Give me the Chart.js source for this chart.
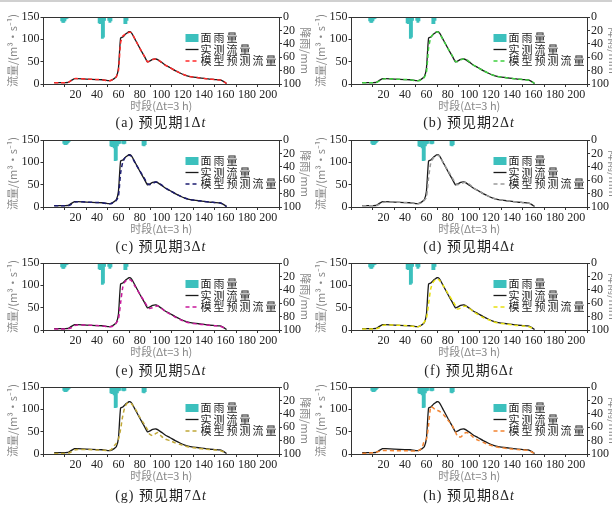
<!DOCTYPE html>
<html>
<head>
<meta charset="utf-8">
<script src="https://cdn.jsdelivr.net/npm/chart.js@4.4.0/dist/chart.umd.min.js"></script>
<style>
  html, body { margin: 0; padding: 0; background: #fff; overflow: hidden; }
  body { width: 612px; height: 506px; position: relative; }
  .topline { position: absolute; left: 0; top: 0; width: 612px; height: 2px; background: #d0d0d0; }
  .panel { position: absolute; width: 316px; height: 116px; }
  .cap {
    position: absolute; width: 240px; text-align: center;
    font: 14px "Liberation Serif", "Noto Sans CJK SC", serif; color: #222;
    line-height: 16px; letter-spacing: 1px;
  }
</style>
</head>
<body>
<div class="topline"></div>
<script>
// time steps (Δt = 3 h) where the flow curves are sampled
const steps = [0, 5, 10, 13, 16, 19, 22, 30, 40, 45, 50, 53, 56, 58, 60, 62, 64, 66, 68, 70, 72, 76, 80, 84, 87, 89, 92, 95, 97, 100, 104, 108, 113, 118, 122, 126, 130, 135, 140, 145, 150, 155, 158, 161];

// observed flow (m3/s)
const observed = [3, 3, 3, 3.5, 8, 12, 12, 11, 10, 9.5, 7.5, 8, 12, 16, 35, 103, 105, 110, 114, 117, 115, 98, 80, 63, 50, 51, 55, 56, 54, 49, 42, 37, 30, 24, 20, 17, 15.5, 14, 12.5, 11, 10, 9, 6, 1];

// model predicted flow, lead time 1..8 Δt
const pred1 = [3, 3, 3, 3.5, 8, 12, 12, 11, 10, 9.5, 7.5, 8, 12, 16, 30, 92, 107, 111, 114, 116, 115, 98, 80, 63, 50, 51, 55, 56, 54, 49, 42, 37, 30, 24, 20, 17, 15.5, 14, 12.5, 11, 10, 9, 6, 1];
const pred2 = [3, 3, 3, 3, 7, 11, 12, 11, 10, 9.5, 7.5, 7.5, 11, 15, 26, 80, 104, 111, 115, 117, 114, 97, 80, 64, 51, 50, 54, 56, 55, 50, 42, 37, 30, 24, 20, 17, 15.5, 14, 12.5, 11, 10, 9, 6, 1];
const pred3 = [3, 3, 3, 3, 6, 11, 12, 11, 10, 9.5, 7.5, 7.5, 11, 15, 24, 75, 100, 110, 114, 116, 114, 97, 81, 65, 53, 50, 53, 56, 55, 50, 42, 37, 30, 24, 20, 17, 15.5, 14, 12.5, 11, 10, 9, 6, 1];
const pred4 = [3, 3, 3, 3, 6, 10, 11, 11, 10, 9.5, 7.5, 7.5, 10, 15, 22, 65, 98, 108, 114, 116, 114, 98, 82, 66, 54, 50, 52, 55, 55, 51, 43, 37, 30, 24, 20, 17, 15.5, 14, 12.5, 11, 10, 9, 6, 1];
const pred5 = [2, 2, 2.5, 3, 5, 10, 11, 11, 10, 9, 7, 7.5, 10, 16, 24, 60, 95, 108, 112, 113, 111, 96, 80, 65, 53, 48, 50, 53, 54, 49, 41, 36, 29, 23, 19, 16, 14.5, 13, 12, 10.5, 9.5, 8.5, 5.5, 1];
const pred6 = [2, 2, 2.5, 3, 5, 10, 11, 11, 10, 9, 7, 7.5, 12, 18, 26, 58, 92, 106, 112, 114, 112, 98, 82, 67, 55, 47, 49, 53, 53, 49, 41, 35, 28, 23, 19, 16, 14.5, 13, 11.5, 10, 9, 8, 5, 1];
const pred7 = [1, 1, 1, 1.5, 5, 9, 10, 10, 9, 8.5, 8, 9, 18, 24, 33, 55, 85, 105, 113, 115, 113, 100, 82, 67, 55, 45, 41, 46, 48, 40, 33, 30, 25, 21, 18, 15.5, 14, 12.5, 11, 10, 9, 8, 5, 1];
const pred8 = [1, 2, 3, 4, 6, 8, 8, 7.5, 7, 7, 6.5, 8, 14, 30, 33, 65, 106, 104, 100, 98, 96, 88, 76, 64, 50, 40, 38, 45, 48, 46, 37, 31, 26, 21, 18, 15.5, 14, 12.5, 11, 10, 9, 8, 5, 1];

// areal rainfall (mm), two versions as printed in the figure
const rainStepsA = [1, 2, 3, 7, 8, 9, 10, 11, 12, 15, 16, 42, 43, 44, 45, 46, 47, 51, 52, 53, 66, 67, 68, 113, 114, 115, 116, 117, 124, 125, 126, 127, 128, 129];
const rainA      = [1, 1, 1, 6, 8, 8, 6, 3, 2, 1, 1, 9, 10, 10, 32, 30, 5, 5, 8, 6, 10, 10, 5, 1, 1, 1, 1, 1, 1, 1, 1, 1, 1, 1];
const rainStepsB = [2, 3, 4, 9, 10, 11, 12, 13, 14, 16, 17, 18, 19, 53, 54, 55, 56, 57, 58, 59, 60, 61, 64, 65, 66, 83, 84, 85, 140, 141, 142, 143, 144, 145, 146, 153, 154, 155, 156, 157, 158, 159, 160, 161, 162];
const rainB      = [1, 1, 1, 5, 7, 7, 6, 4, 2, 1, 1, 1, 1, 9, 10, 10, 12, 31, 30, 9, 6, 5, 5, 6, 5, 8, 9, 7, 1, 1, 1, 1, 1, 1, 1, 1, 1, 1, 1, 1, 1, 1, 1, 1, 1];

const xTicks = [0, 20, 40, 60, 80, 100, 120, 140, 160, 180, 200];
const flowTicks = [0, 50, 100, 150];
const rainTicks = [0, 20, 40, 60, 80, 100];

const panels = [
  { tag: '(a)', lead: 1, pred: pred1, color: '#ff2a2a', rain: 'A' },
  { tag: '(b)', lead: 2, pred: pred2, color: '#3fcf3f', rain: 'A' },
  { tag: '(c)', lead: 3, pred: pred3, color: '#1c1c70', rain: 'B' },
  { tag: '(d)', lead: 4, pred: pred4, color: '#9a9a9a', rain: 'B' },
  { tag: '(e)', lead: 5, pred: pred5, color: '#c8189a', rain: 'A' },
  { tag: '(f)', lead: 6, pred: pred6, color: '#e8e010', rain: 'A' },
  { tag: '(g)', lead: 7, pred: pred7, color: '#c0a838', rain: 'B' },
  { tag: '(h)', lead: 8, pred: pred8, color: '#f28432', rain: 'B' }
];

const colX = [0, 308];
const rowY = [0, 123, 246, 370];

const serif = '"Liberation Serif", serif';
const cjk = '"Noto Sans CJK SC", sans-serif';

function pts(xs, ys) {
  return xs.map((x, i) => ({ x: x, y: ys[i] }));
}

// top frame line + legend inside the plot
const frameAndLegend = {
  id: 'frameAndLegend',
  afterDraw(chart) {
    const { ctx, chartArea } = chart;
    ctx.save();
    ctx.strokeStyle = '#333';
    ctx.lineWidth = 1;
    ctx.beginPath();
    ctx.moveTo(chartArea.left, chartArea.top + 0.5);
    ctx.lineTo(chartArea.right, chartArea.top + 0.5);
    ctx.stroke();

    const x = chartArea.left + 142;
    const y = chartArea.top + 21;
    const ds = chart.data.datasets;
    ctx.font = '11px ' + cjk;
    ctx.textBaseline = 'middle';
    ctx.letterSpacing = '2px';

    ctx.fillStyle = ds[2].backgroundColor;
    ctx.fillRect(x, y - 4, 13, 8);
    ctx.fillStyle = '#222';
    ctx.fillText(ds[2].label, x + 15, y);

    ctx.strokeStyle = ds[0].borderColor;
    ctx.lineWidth = 1.3;
    ctx.beginPath();
    ctx.moveTo(x, y + 11.5);
    ctx.lineTo(x + 13, y + 11.5);
    ctx.stroke();
    ctx.fillText(ds[0].label, x + 15, y + 11.5);

    ctx.strokeStyle = ds[1].borderColor;
    ctx.lineWidth = 1.5;
    ctx.setLineDash([4, 3]);
    ctx.beginPath();
    ctx.moveTo(x, y + 23);
    ctx.lineTo(x + 14, y + 23);
    ctx.stroke();
    ctx.setLineDash([]);
    ctx.fillText(ds[1].label, x + 15, y + 23);
    ctx.restore();
  }
};

panels.forEach((p, i) => {
  const left = colX[i % 2];
  const top = rowY[Math.floor(i / 2)];

  const box = document.createElement('div');
  box.className = 'panel';
  box.style.left = left + 'px';
  box.style.top = top + 'px';
  const cv = document.createElement('canvas');
  cv.width = 316;
  cv.height = 116;
  box.appendChild(cv);
  document.body.appendChild(box);

  const cap = document.createElement('div');
  cap.className = 'cap';
  cap.style.left = (left + 41) + 'px';
  cap.style.top = (top + 115 + Math.floor(i / 2)) + 'px';
  cap.innerHTML = p.tag + ' 预见期' + p.lead + 'Δ<i>t</i>';
  document.body.appendChild(cap);

  const rs = p.rain === 'A' ? rainStepsA : rainStepsB;
  const rv = p.rain === 'A' ? rainA : rainB;

  new Chart(cv.getContext('2d'), {
    type: 'line',
    data: {
      datasets: [
        {
          label: '实测流量',
          data: pts(steps, observed),
          borderColor: '#1a1a1a',
          borderWidth: 1.3,
          pointRadius: 0,
          tension: 0.2,
          yAxisID: 'y',
          order: 2
        },
        {
          label: '模型预测流量',
          data: pts(steps, p.pred),
          borderColor: p.color,
          borderWidth: 1.5,
          borderDash: [4, 3],
          pointRadius: 0,
          tension: 0.2,
          yAxisID: 'y',
          order: 1
        },
        {
          type: 'bar',
          label: '面雨量',
          data: pts(rs, rv),
          backgroundColor: '#3cc0bd',
          borderWidth: 0,
          barThickness: 2.2,
          yAxisID: 'y2',
          order: 3
        }
      ]
    },
    options: {
      responsive: false,
      animation: false,
      layout: { padding: { top: 17, left: 0, right: 0, bottom: 0 } },
      plugins: {
        legend: { display: false },
        tooltip: { enabled: false }
      },
      scales: {
        x: {
          type: 'linear',
          min: 0,
          max: 200,
          afterBuildTicks: s => { s.ticks = xTicks.map(v => ({ value: v })); },
          afterFit: s => { s.height = 32; },
          ticks: {
            color: '#222',
            font: { family: serif, size: 12 },
            padding: 1,
            maxRotation: 0,
            autoSkip: false,
            callback: v => (v === 0 ? '' : v)
          },
          grid: { drawOnChartArea: false, tickLength: 3, color: '#333' },
          border: { color: '#333' },
          title: {
            display: true,
            text: '时段(Δt=3 h)',
            color: '#888',
            font: { family: cjk, size: 11 },
            padding: { top: 0, bottom: 4 }
          }
        },
        y: {
          position: 'left',
          min: 0,
          max: 150,
          afterBuildTicks: s => { s.ticks = flowTicks.map(v => ({ value: v })); },
          afterFit: s => { s.width = 43.5; },
          ticks: { color: '#222', font: { family: serif, size: 12 }, padding: 1, autoSkip: false },
          grid: { drawOnChartArea: false, tickLength: 3, color: '#333' },
          border: { color: '#333' },
          title: {
            display: true,
            text: '流量/(m³·s⁻¹)',
            color: '#888',
            font: { family: cjk, size: 11 },
            padding: { top: 6.5, bottom: 0 }
          }
        },
        y2: {
          position: 'right',
          reverse: true,
          min: 0,
          max: 100,
          afterBuildTicks: s => { s.ticks = rainTicks.map(v => ({ value: v })); },
          afterFit: s => { s.width = 37; },
          ticks: { color: '#222', font: { family: serif, size: 12 }, padding: 1, autoSkip: false },
          grid: { drawOnChartArea: false, tickLength: 3, color: '#333' },
          border: { color: '#333' },
          title: {
            display: true,
            text: '降雨/mm',
            color: '#888',
            font: { family: cjk, size: 11 },
            padding: { top: 4.5, bottom: 0 }
          }
        }
      }
    },
    plugins: [frameAndLegend]
  });
});
</script>
</body>
</html>
